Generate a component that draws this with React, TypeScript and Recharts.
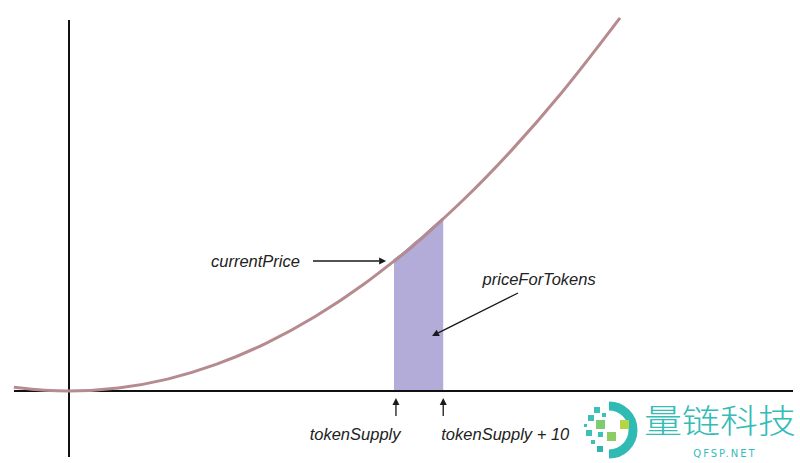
import React from "react";
import { ComposedChart, Line, Area, XAxis, YAxis, ReferenceLine, ReferenceDot } from "recharts";

// token supply (x) and price (y)
const supply = [-11.2, -5, 0, 10, 20, 30, 40, 50, 60, 66, 68, 70, 72, 74, 76, 80, 90, 100, 111.9];
const price = [1.25, 0.25, 0, 1, 4, 9, 16, 25, 36, 43.6, 46.2, 49, 51.8, 54.8, 57.8, 64, 81, 100, 125.2];
const bandStart = 66;
const bandEnd = 76;

const X_DOMAIN: [number, number] = [-14.013, 148.457];
const Y_DOMAIN: [number, number] = [-24.16, 131.21];

const labels = {
  current: "currentPrice",
  priceFor: "priceForTokens",
  supplyLabel: "tokenSupply",
  supplyPlus: "tokenSupply + 10",
};

const data = supply.map((s, i) => ({
  x: s,
  price: price[i],
  band: s >= bandStart && s <= bandEnd ? price[i] : null,
}));

const FONT = "'Liberation Sans', Arial, Helvetica, sans-serif";

const Arrow = (props: any) => {
  const { x1, y1, x2, y2 } = props;
  const dx = x2 - x1;
  const dy = y2 - y1;
  const len = Math.sqrt(dx * dx + dy * dy) || 1;
  const ux = dx / len;
  const uy = dy / len;
  const hl = 7;
  const hw = 3.5;
  const bx = x2 - ux * hl;
  const by = y2 - uy * hl;
  const px = -uy;
  const py = ux;
  return (
    <g>
      <line x1={x1} y1={y1} x2={bx} y2={by} stroke="#1a1a1a" strokeWidth={1.3} />
      <polygon
        points={`${x2},${y2} ${bx + px * hw},${by + py * hw} ${bx - px * hw},${by - py * hw}`}
        fill="#1a1a1a"
      />
    </g>
  );
};

const makeText = (text: string, anchor: "start" | "middle" | "end") => (p: any) => (
  <text
    x={p.cx}
    y={p.cy}
    textAnchor={anchor}
    dominantBaseline="central"
    fontFamily={FONT}
    fontStyle="italic"
    fontSize={16.5}
    fill="#222"
  >
    {text}
  </text>
);

const Logo = () => (
  <svg width={800} height={463} style={{ position: "absolute", left: 0, top: 0, pointerEvents: "none" }}>
    <path d="M 609 406 A 24 24 0 0 1 609 454" fill="none" stroke="#2fbab4" strokeWidth={9} />
    <rect x={594} y={407} width={6} height={6} fill="#3cc0b8" />
    <rect x={602} y={413} width={4} height={4} fill="#3cc0b8" />
    <rect x={588} y={415} width={6} height={6} fill="#3cc0b8" />
    <rect x={584} y={424} width={3} height={3} fill="#3cc0b8" />
    <rect x={586} y={430} width={6} height={6} fill="#3cc0b8" />
    <rect x={596} y={420} width={9} height={9} fill="#7ccd72" />
    <rect x={620} y={420} width={9} height={9} fill="#b6d443" />
    <rect x={598} y={432} width={5} height={5} fill="#3cc0b8" />
    <rect x={607} y={432} width={9} height={9} fill="#8ccd63" />
    <rect x={591} y={440} width={4} height={4} fill="#3cc0b8" />
    <rect x={597} y={446} width={6} height={6} fill="#2fb5ae" />
    <text
      x={644}
      y={433}
      fontFamily="'Noto Sans CJK SC', sans-serif"
      fontSize={33}
      fontWeight={300}
      fill="#34bcb7"
      textLength={152}
      lengthAdjust="spacingAndGlyphs"
    >
      量链科技
    </text>
    <text
      x={725}
      y={457}
      textAnchor="middle"
      fontFamily="'DejaVu Sans', sans-serif"
      fontSize={10}
      letterSpacing={2}
      fill="#34bcb7"
    >
      QFSP.NET
    </text>
  </svg>
);

export default function App() {
  return (
    <div style={{ position: "absolute", left: 0, top: 0, width: 800, height: 463, background: "#fff" }}>
      <ComposedChart width={800} height={463} data={data} margin={{ top: 0, right: 0, bottom: 0, left: 0 }}>
        <XAxis type="number" dataKey="x" domain={X_DOMAIN} allowDataOverflow hide />
        <YAxis type="number" domain={Y_DOMAIN} allowDataOverflow hide />
        <ReferenceLine
          segment={[{ x: 0, y: 124.5 }, { x: 0, y: -22.15 }]}
          stroke="#111"
          strokeWidth={2}
          ifOverflow="visible"
        />
        <ReferenceLine
          segment={[{ x: -11.17, y: 0 }, { x: 147.04, y: 0 }]}
          stroke="#111"
          strokeWidth={2}
          ifOverflow="visible"
        />
        <Line
          type="monotone"
          dataKey="price"
          stroke="#b68b90"
          strokeWidth={3}
          dot={false}
          activeDot={false}
          isAnimationActive={false}
        />
        <Area
          type="monotone"
          dataKey="band"
          baseValue={0}
          fill="#b3acd9"
          fillOpacity={1}
          stroke="#8684ad"
          strokeWidth={3}
          dot={false}
          activeDot={false}
          isAnimationActive={false}
        />
        <ReferenceLine
          segment={[{ x: 49.55, y: 43.62 }, { x: 64.4, y: 43.62 }]}
          shape={Arrow}
          ifOverflow="visible"
        />
        <ReferenceLine
          segment={[{ x: 91.19, y: 32.89 }, { x: 73.72, y: 18.46 }]}
          shape={Arrow}
          ifOverflow="visible"
        />
        <ReferenceLine
          segment={[{ x: 66.4, y: -8.4 }, { x: 66.4, y: -2.35 }]}
          shape={Arrow}
          ifOverflow="visible"
        />
        <ReferenceLine
          segment={[{ x: 76, y: -8.4 }, { x: 76, y: -2.35 }]}
          shape={Arrow}
          ifOverflow="visible"
        />
        <ReferenceDot x={46.9} y={43.62} r={0} shape={makeText(labels.current, "end")} ifOverflow="visible" />
        <ReferenceDot x={84.0} y={37.6} r={0} shape={makeText(labels.priceFor, "start")} ifOverflow="visible" />
        <ReferenceDot x={58.1} y={-14.4} r={0} shape={makeText(labels.supplyLabel, "middle")} ifOverflow="visible" />
        <ReferenceDot x={88.6} y={-14.4} r={0} shape={makeText(labels.supplyPlus, "middle")} ifOverflow="visible" />
      </ComposedChart>
      <Logo />
    </div>
  );
}
